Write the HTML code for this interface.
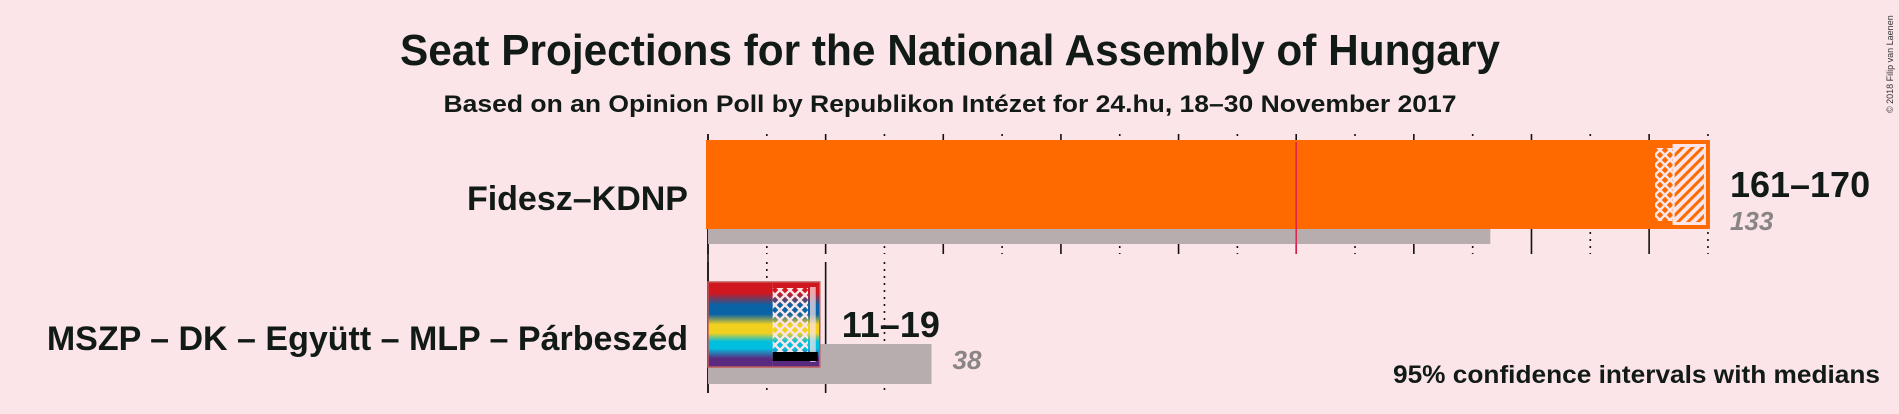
<!DOCTYPE html>
<html><head><meta charset="utf-8"><style>
html,body{margin:0;padding:0;background:#fbe5e9;}
svg{display:block;font-family:"Liberation Sans",sans-serif;}
</style></head><body>
<svg id="chart" width="1899" height="414" viewBox="0 0 1899 414" xmlns="http://www.w3.org/2000/svg">
<defs>
<pattern id="cross" patternUnits="userSpaceOnUse" width="10" height="10">
<path d="M0 0L10 10M10 0L0 10" stroke="#fbe5e9" stroke-width="2.4"/>
</pattern>
<pattern id="diag" patternUnits="userSpaceOnUse" width="10" height="10">
<path d="M-2 12L12 -2M-2 2L2 -2M8 12L12 8" stroke="#ff6a00" stroke-width="3"/>
</pattern>
<linearGradient id="stripes" x1="0" y1="0" x2="0" y2="1">
<stop offset="0" stop-color="#d0171f"/><stop offset="0.13" stop-color="#d0171f"/>
<stop offset="0.27" stop-color="#0a63a6"/><stop offset="0.38" stop-color="#0a63a6"/>
<stop offset="0.5" stop-color="#f2d11e"/><stop offset="0.6" stop-color="#f2d11e"/>
<stop offset="0.7" stop-color="#00c0df"/><stop offset="0.78" stop-color="#00c0df"/>
<stop offset="0.9" stop-color="#5a2a80"/><stop offset="1" stop-color="#5a2a80"/>
</linearGradient>
</defs>
<text x="950" y="65" text-anchor="middle" font-size="44" font-weight="bold" fill="#111a16" textLength="1100" lengthAdjust="spacingAndGlyphs">Seat Projections for the National Assembly of Hungary</text>
<text x="950" y="112" text-anchor="middle" font-size="24" font-weight="bold" fill="#111a16" textLength="1013" lengthAdjust="spacingAndGlyphs">Based on an Opinion Poll by Republikon Intézet for 24.hu, 18–30 November 2017</text>
<text transform="translate(1893,113) rotate(-90)" font-size="9" fill="#333">© 2018 Filip van Laenen</text>
<g id="ticks"></g>
<g id="bars"></g>
<text x="1880" y="383" text-anchor="end" font-size="25" font-weight="bold" fill="#111a16" textLength="487" lengthAdjust="spacingAndGlyphs">95% confidence intervals with medians</text>
</svg>
<script>
const parties = ["Fidesz–KDNP", "MSZP – DK – Együtt – MLP – Párbeszéd"];
const low = [161, 11];
const mid = [164, 17];
const high = [170, 19];
const previous = [133, 38];
const tickMax = [170, 30];

const X0 = 708, PX = 5.882;
function xs(v){ return X0 + v*PX; }
const NS = "http://www.w3.org/2000/svg";
function mk(tag, attrs, parent){ const e=document.createElementNS(NS,tag); for(const k in attrs) e.setAttribute(k,attrs[k]); parent.appendChild(e); return e; }
const tg = document.getElementById('ticks'), bg = document.getElementById('bars');
const rowTop = [142, 282], rowH = [85, 85], prevTop = [227, 344], prevH = [17, 40];
const tickTop = [134, 262], tickBot = [254, 393];

for(let i=0;i<parties.length;i++){
  for(let v=0; v<=tickMax[i]; v+=10){
    const solid = (v%20===0);
    const t = mk('line',{x1:xs(v),x2:xs(v),y1:tickTop[i],y2:tickBot[i],stroke:'#111',"stroke-width":solid?1.6:1.6,"stroke-dasharray":solid?'none':'2,5'},tg);
    
    
  }
}
const zl = mk('line',{x1:xs(0),x2:xs(0),y1:134,y2:393,stroke:'#111',"stroke-width":1.6},tg);



for(let i=0;i<parties.length;i++){
  const fill = i===0 ? '#ff6a00' : 'url(#stripes)';
  const pr = mk('rect',{x:xs(0),y:prevTop[i],width:xs(previous[i])-xs(0),height:prevH[i],fill:'#b8adae'},bg);
  
  
  const s = mk('rect',{x:xs(0),y:rowTop[i],width:xs(low[i])-xs(0),height:rowH[i],fill:fill},bg);
  
  
  const c = mk('rect',{x:xs(low[i]),y:rowTop[i],width:xs(mid[i])-xs(low[i]),height:rowH[i],fill:fill},bg);
  
  
  const co = mk('rect',{x:xs(low[i]),y:rowTop[i]+6,width:xs(mid[i])-xs(low[i]),height:rowH[i]-12,fill:'url(#cross)'},bg);
  
  
  const d = mk('rect',{x:xs(mid[i]),y:rowTop[i],width:xs(high[i])-xs(mid[i]),height:rowH[i],fill:i===0?'#fbe5e9':fill},bg);
  
  
  const dd = mk('rect',{x:xs(mid[i])+2,y:rowTop[i]+5,width:xs(high[i])-xs(mid[i])-6,height:rowH[i]-10,fill:i===0?'url(#diag)':'#fbe5e9',opacity:i===0?1:0.7},bg);
  
  
  const o = mk('rect',{x:xs(0),y:rowTop[i],width:xs(high[i])-xs(0),height:rowH[i],fill:'none',stroke:i===0?'#ff6a00':'#c05a5a',"stroke-width":i===0?4:1.5},bg);
  
  
  const lab = mk('text',{x:688,y:rowTop[i]+68,"text-anchor":"end","font-size":34,"font-weight":"bold",fill:'#111a16'},bg);
  lab.textContent = parties[i];
  
  
  const rl = mk('text',{x:xs(high[i])+22,y:rowTop[i]+55,"font-size":36,"font-weight":"bold",fill:'#111a16'},bg);
  rl.textContent = low[i]+'–'+high[i];
  
  
  const pl = mk('text',{x:i===0?xs(high[i])+22:xs(previous[i])+21,y:i===0?rowTop[i]+88:rowTop[i]+87,"font-size":26,"font-style":"italic","font-weight":"bold",fill:'#8a8585'},bg);
  pl.textContent = previous[i];
  
  
}
// majority line
const ml = mk('line',{x1:xs(100),x2:xs(100),y1:142,y2:254,stroke:'#e0204a',"stroke-width":1.5},bg);


// black band in MSZP hatch region
const bb = mk('rect',{x:xs(low[1]),y:352,width:xs(high[1])-xs(low[1])-2,height:9,fill:'#000'},bg);


</script>
</body></html>
